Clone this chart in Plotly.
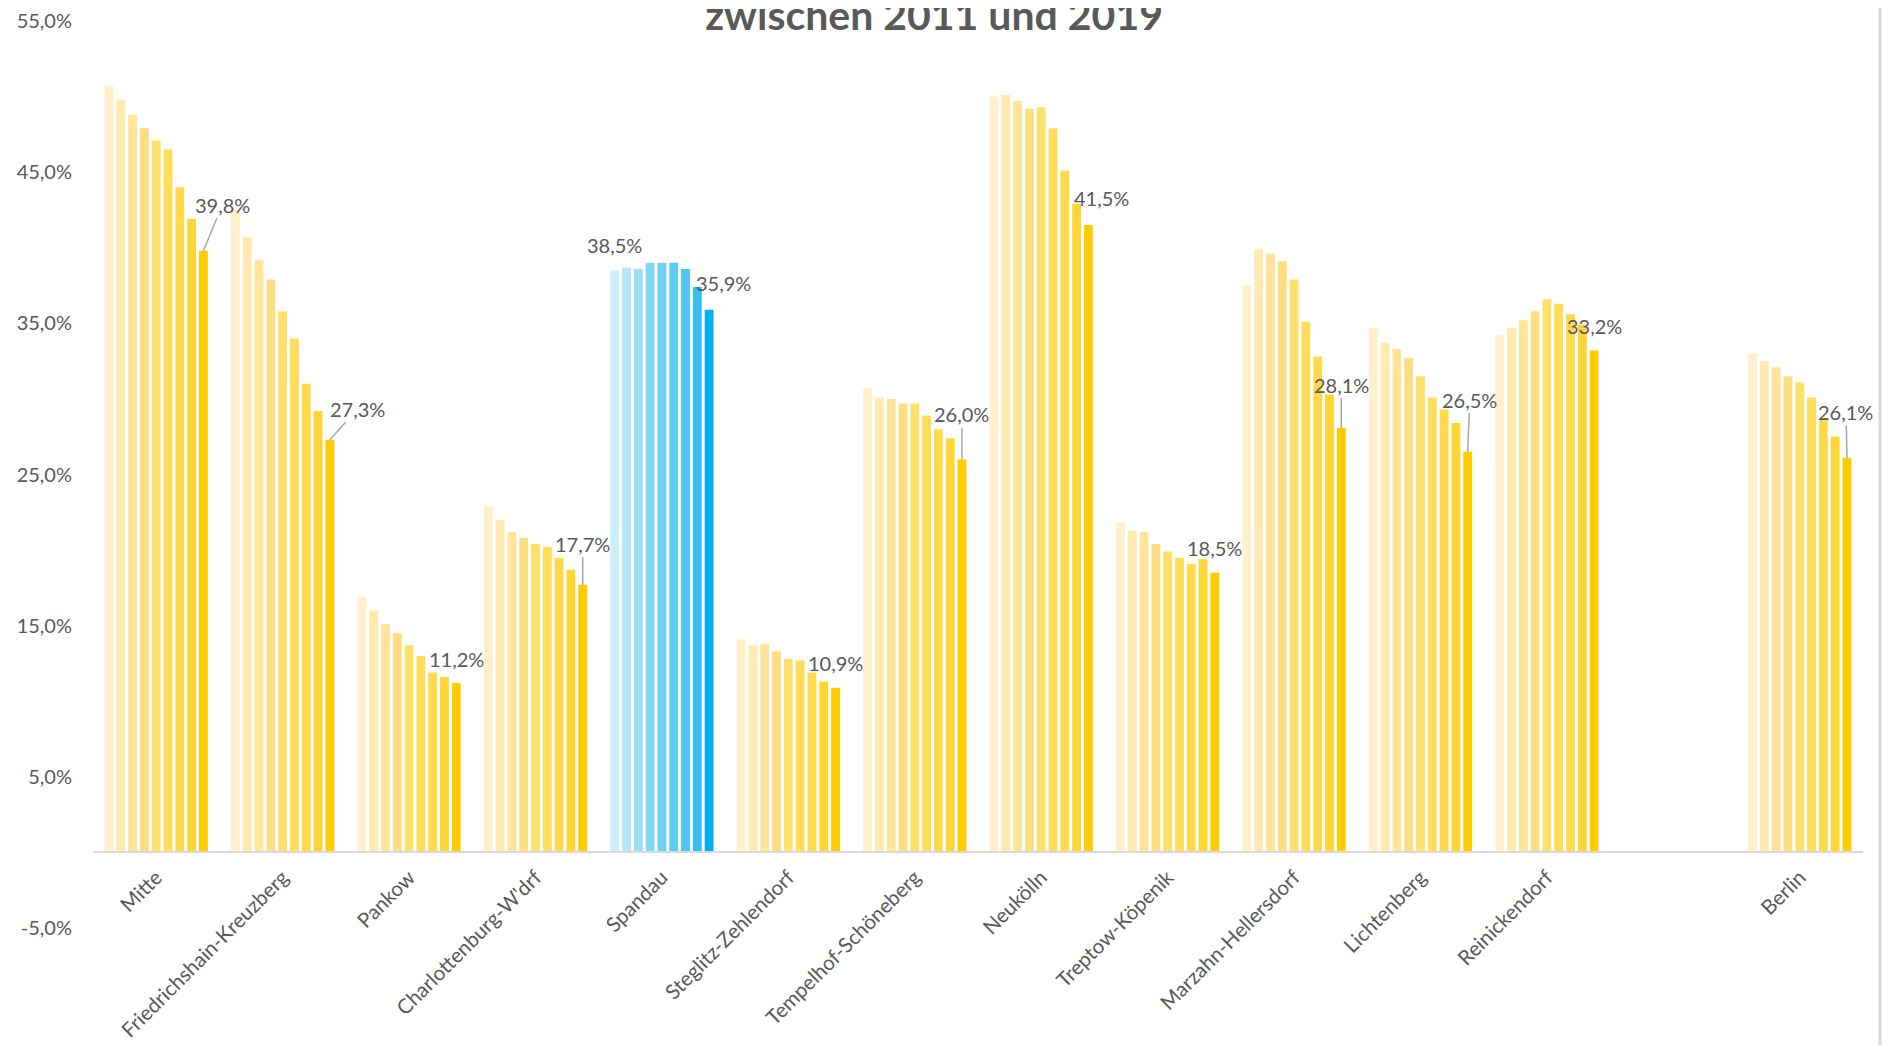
import plotly.graph_objects as go

# ---------------- data ----------------
categories = ["Mitte", "Friedrichshain-Kreuzberg", "Pankow", "Charlottenburg-W'drf",
              "Spandau", "Steglitz-Zehlendorf", "Tempelhof-Schöneberg", "Neukölln",
              "Treptow-Köpenik", "Marzahn-Hellersdorf", "Lichtenberg", "Reinickendorf",
              "", "Berlin"]
years = [2011, 2012, 2013, 2014, 2015, 2016, 2017, 2018, 2019]

mitte = [50.7, 49.8, 48.8, 47.9, 47.1, 46.5, 44.0, 41.9, 39.8]
friedrichshain_kreuzberg = [42.5, 40.7, 39.2, 37.9, 35.8, 34.0, 31.0, 29.2, 27.3]
pankow = [16.9, 16.0, 15.1, 14.5, 13.7, 13.0, 11.9, 11.6, 11.2]
charlottenburg = [22.9, 22.0, 21.2, 20.8, 20.4, 20.2, 19.5, 18.7, 17.7]
spandau = [38.5, 38.7, 38.6, 39.0, 39.0, 39.0, 38.6, 37.4, 35.9]
steglitz = [14.1, 13.7, 13.8, 13.3, 12.8, 12.7, 11.9, 11.3, 10.9]
tempelhof = [30.7, 30.1, 30.0, 29.7, 29.7, 28.9, 28.0, 27.4, 26.0]
neukoelln = [50.0, 50.1, 49.7, 49.2, 49.3, 47.9, 45.1, 42.9, 41.5]
treptow = [21.8, 21.3, 21.2, 20.4, 19.9, 19.5, 19.1, 19.4, 18.5]
marzahn = [37.5, 39.9, 39.6, 39.1, 37.9, 35.1, 32.8, 30.3, 28.1]
lichtenberg = [34.7, 33.7, 33.3, 32.7, 31.5, 30.1, 29.3, 28.4, 26.5]
reinickendorf = [34.2, 34.7, 35.2, 35.8, 36.6, 36.3, 35.6, 34.9, 33.2]
empty = [None] * 9
berlin = [33.0, 32.5, 32.1, 31.5, 31.1, 30.1, 28.7, 27.5, 26.1]

series = [mitte, friedrichshain_kreuzberg, pankow, charlottenburg, spandau, steglitz,
          tempelhof, neukoelln, treptow, marzahn, lichtenberg, reinickendorf, empty, berlin]

y_tickvals = [-5, 5, 15, 25, 35, 45, 55]
y_ticktext = ["-5,0%", "5,0%", "15,0%", "25,0%", "35,0%", "45,0%", "55,0%"]

# labelled bars: (category index, year index)
label_cat = [0, 1, 2, 3, 4, 4, 5, 6, 7, 8, 9, 10, 11, 13]
label_year = [8, 8, 8, 8, 0, 8, 8, 8, 8, 8, 8, 8, 8, 8]

# ---------------- style ----------------
yellow = ["#FFF0CB", "#FFE9B1", "#FFE49A", "#FFDE83", "#FFE06B", "#FFDC5A", "#FFD94B",
          "#FFD536", "#FFCC00"]
blue = ["#CCEEFA", "#B3E6F8", "#9ADEF6", "#82D6F4", "#6ED0F3", "#5ECBF2", "#4EC6F1",
        "#35BFF0", "#00B0F0"]
highlight_idx = 4
text_col = "#595959"
font_fam = "Lato, Calibri, sans-serif"
bargap = 0.16
# label offsets in pixels (dx, dy) and whether a leader line is drawn
label_dx = [19, 28, 0, 0, 0, 14, 0, 0, 13, 0, 0, 2, 0, -1]
label_dy = [-46, -31, -24, -41, -25, -27, -25, -45, -27, -25, -43, -52, -25, -46]
label_line = [True, True, False, True, False, False, False, True, False, False, True, True,
              False, True]

x_idx = list(range(len(categories)))

fig = go.Figure()
for k, yr in enumerate(years):
    yvals = [s[k] for s in series]
    colors = [blue[k] if i == highlight_idx else yellow[k] for i in x_idx]
    fig.add_trace(go.Bar(x=x_idx, y=yvals, name=str(yr), marker=dict(color=colors, line=dict(width=0)),
                         showlegend=False, hoverinfo="skip"))

ntr = len(years)
group_w = 1 - bargap
for j, (ci, yi) in enumerate(zip(label_cat, label_year)):
    val = series[ci][yi]
    xpos = ci - group_w / 2 + (yi + 0.5) * group_w / ntr
    txt = f"{val:.1f}".replace(".", ",") + "%"
    if label_line[j]:
        fig.add_annotation(x=xpos, y=val, text=txt, showarrow=True, arrowhead=0,
                           arrowwidth=1.5, arrowcolor="#A6A6A6", ax=label_dx[j], ay=label_dy[j],
                           standoff=0, startstandoff=0,
                           font=dict(family=font_fam, size=20, color=text_col))
    else:
        fig.add_annotation(x=xpos, y=val, text=txt, showarrow=False,
                           xshift=label_dx[j], yshift=-label_dy[j],
                           font=dict(family=font_fam, size=20, color=text_col))

# right border line
fig.add_shape(type="line", xref="paper", yref="paper", x0=1.0096, x1=1.0096, y0=-0.15, y1=1.03,
              line=dict(color="#D9D9D9", width=3))

ymin, ymax = -5, 55
fig.update_layout(
    width=1877, height=1037,
    margin=dict(l=85, r=22, t=12.5, b=117, autoexpand=False),
    paper_bgcolor="white", plot_bgcolor="white",
    barmode="group", bargap=bargap, bargroupgap=0.25,
    font=dict(family=font_fam, size=20, color=text_col),
    title=dict(text="<b>zwischen 2011 und 2019</b>", x=0.4934, xanchor="center", xref="container",
               y=0.9925, yanchor="middle", yref="container",
               font=dict(family=font_fam, size=41, color=text_col)),
    xaxis=dict(tickmode="array", tickvals=x_idx, ticktext=categories, range=[-0.5, len(categories) - 0.5],
               tickangle=-45, showgrid=False, zeroline=False, showline=True, linecolor="#D9D9D9",
               linewidth=2, anchor="free", position=(0 - ymin) / (ymax - ymin), ticks="",
               automargin=False,
               ticklabelstandoff=4, tickfont=dict(family=font_fam, size=20.5, color=text_col)),
    yaxis=dict(range=[ymin, ymax], tickmode="array", tickvals=y_tickvals, ticktext=y_ticktext,
               showgrid=False, zeroline=False, showline=False, ticks="", ticklabelstandoff=20,
               automargin=False,
               tickfont=dict(family=font_fam, size=20, color=text_col)),
)

fig.write_html("out.html")
